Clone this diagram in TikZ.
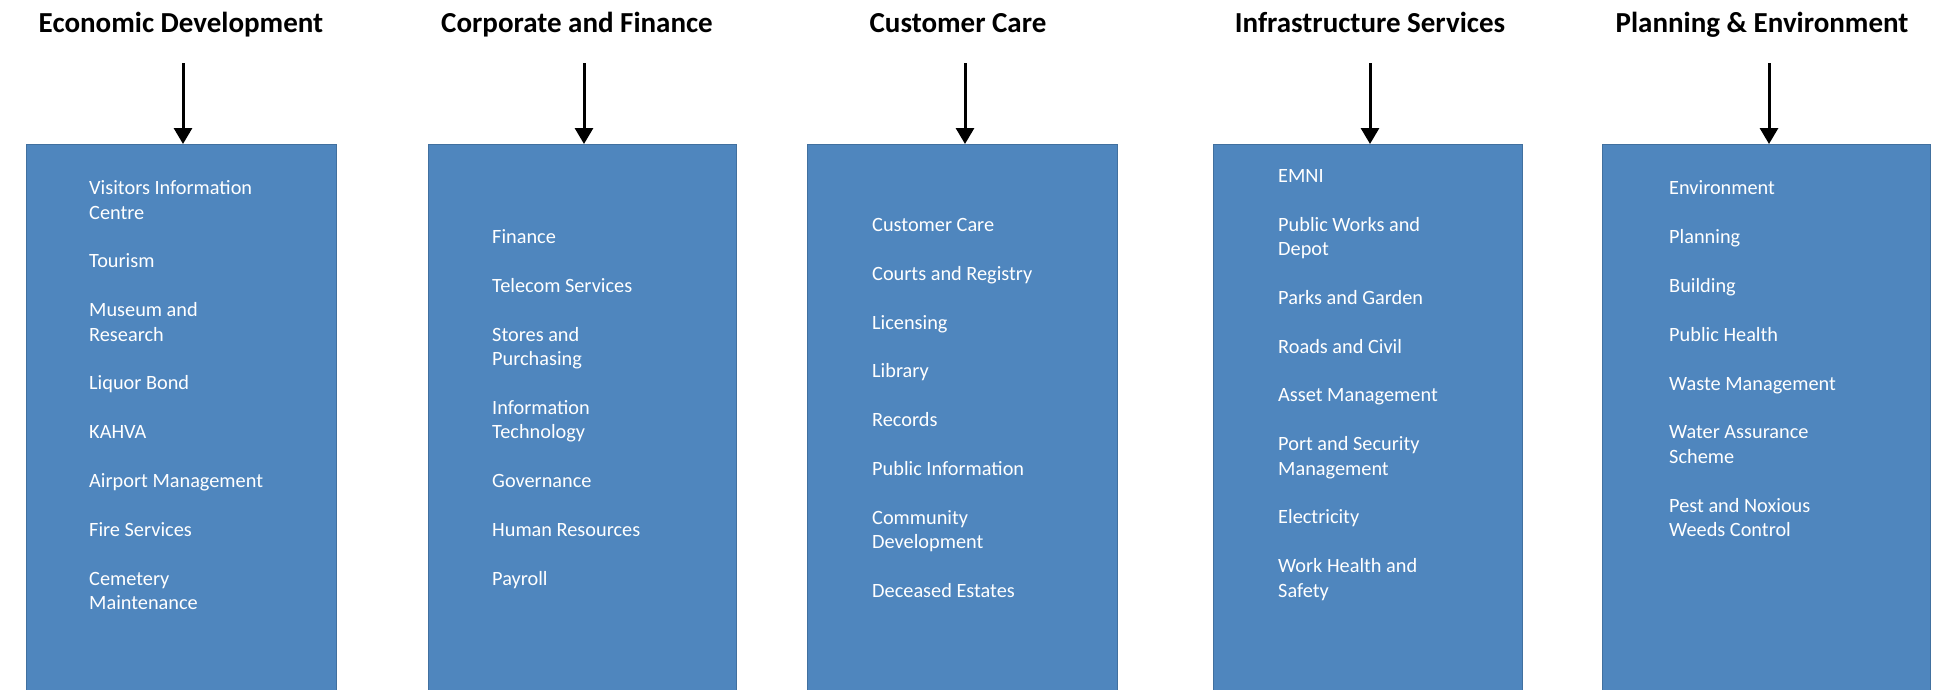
\documentclass[tikz,border=0pt]{standalone}
\usepackage{fontspec}
\setmainfont{Carlito}
\usetikzlibrary{positioning, arrows.meta}
\definecolor{DeptBlue}{HTML}{4F86BE}
\definecolor{DeptEdge}{HTML}{41709F}

\begin{document}
\begin{tikzpicture}[x=1pt,y=-1pt,
    dept/.style={font=\bfseries\fontsize{29}{32}\selectfont, anchor=base, inner sep=0pt},
    unitbox/.style={draw=DeptEdge, line width=1pt, fill=DeptBlue, anchor=north, minimum height=550pt, inner sep=0pt},
    units/.style={align=left, text=white, anchor=base west, inner sep=0pt, font=\fontsize{20.3}{24.4}\selectfont},
    feed/.style={-{Triangle[width=18pt,length=16pt]}, line width=3pt}]
    \useasboundingbox (0,0) rectangle (1935,689);

    % Economic Development (lists are placed by their last baseline)
    \node[dept] (eco) at (181,32) {Economic Development};
    \node[unitbox, minimum width=310pt] (ecobox) at (181,144) {};
    \coordinate (ecotop) at (183,63);
    \draw[feed] (ecotop) -- (ecotop |- ecobox.north);
    \node[units] (ecolist) at (89,609.5) {Visitors Information\\ Centre\\[24.4pt]
        Tourism\\[24.4pt] Museum and\\ Research\\[24.4pt] Liquor Bond\\[24.4pt]
        KAHVA\\[24.4pt] Airport Management\\[24.4pt] Fire Services\\[24.4pt]
        Cemetery\\ Maintenance};

    % Corporate and Finance
    \node[dept] (corp) at (577,32) {Corporate and Finance};
    \node[unitbox, minimum width=308pt] (corpbox) at (582,144) {};
    \coordinate (corptop) at (584,63);
    \draw[feed] (corptop) -- (corptop |- corpbox.north);
    \node[units] (corplist) at (492,585) {Finance\\[24.4pt] Telecom Services\\[24.4pt]
        Stores and\\ Purchasing\\[24.4pt] Information\\ Technology\\[24.4pt]
        Governance\\[24.4pt] Human Resources\\[24.4pt] Payroll};

    % Customer Care
    \node[dept] (cust) at (958,32) {Customer Care};
    \node[unitbox, minimum width=310pt] (custbox) at (962,144) {};
    \coordinate (custtop) at (965,63);
    \draw[feed] (custtop) -- (custtop |- custbox.north);
    \node[units] (custlist) at (872,597.5) {Customer Care\\[24.4pt] Courts and Registry\\[24.4pt]
        Licensing\\[24.4pt] Library\\[24.4pt] Records\\[24.4pt] Public Information\\[24.4pt]
        Community\\ Development\\[24.4pt] Deceased Estates};

    % Infrastructure Services
    \node[dept] (infra) at (1370,32) {Infrastructure Services};
    \node[unitbox, minimum width=309pt] (infrabox) at (1367.5,144) {};
    \coordinate (infratop) at (1370,63);
    \draw[feed] (infratop) -- (infratop |- infrabox.north);
    \node[units] (infralist) at (1278,597) {EMNI\\[24.4pt] Public Works and\\ Depot\\[24.4pt]
        Parks and Garden\\[24.4pt] Roads and Civil\\[24.4pt] Asset Management\\[24.4pt]
        Port and Security\\ Management\\[24.4pt] Electricity\\[24.4pt]
        Work Health and\\ Safety};

    % Planning & Environment
    \node[dept] (plan) at (1762,32) {Planning \& Environment};
    \node[unitbox, minimum width=328pt] (planbox) at (1766,144) {};
    \coordinate (plantop) at (1769,63);
    \draw[feed] (plantop) -- (plantop |- planbox.north);
    \node[units] (planlist) at (1669,536.5) {Environment\\[24.4pt] Planning\\[24.4pt]
        Building\\[24.4pt] Public Health\\[24.4pt] Waste Management\\[24.4pt]
        Water Assurance\\ Scheme\\[24.4pt] Pest and Noxious\\ Weeds Control};
\end{tikzpicture}
\end{document}
